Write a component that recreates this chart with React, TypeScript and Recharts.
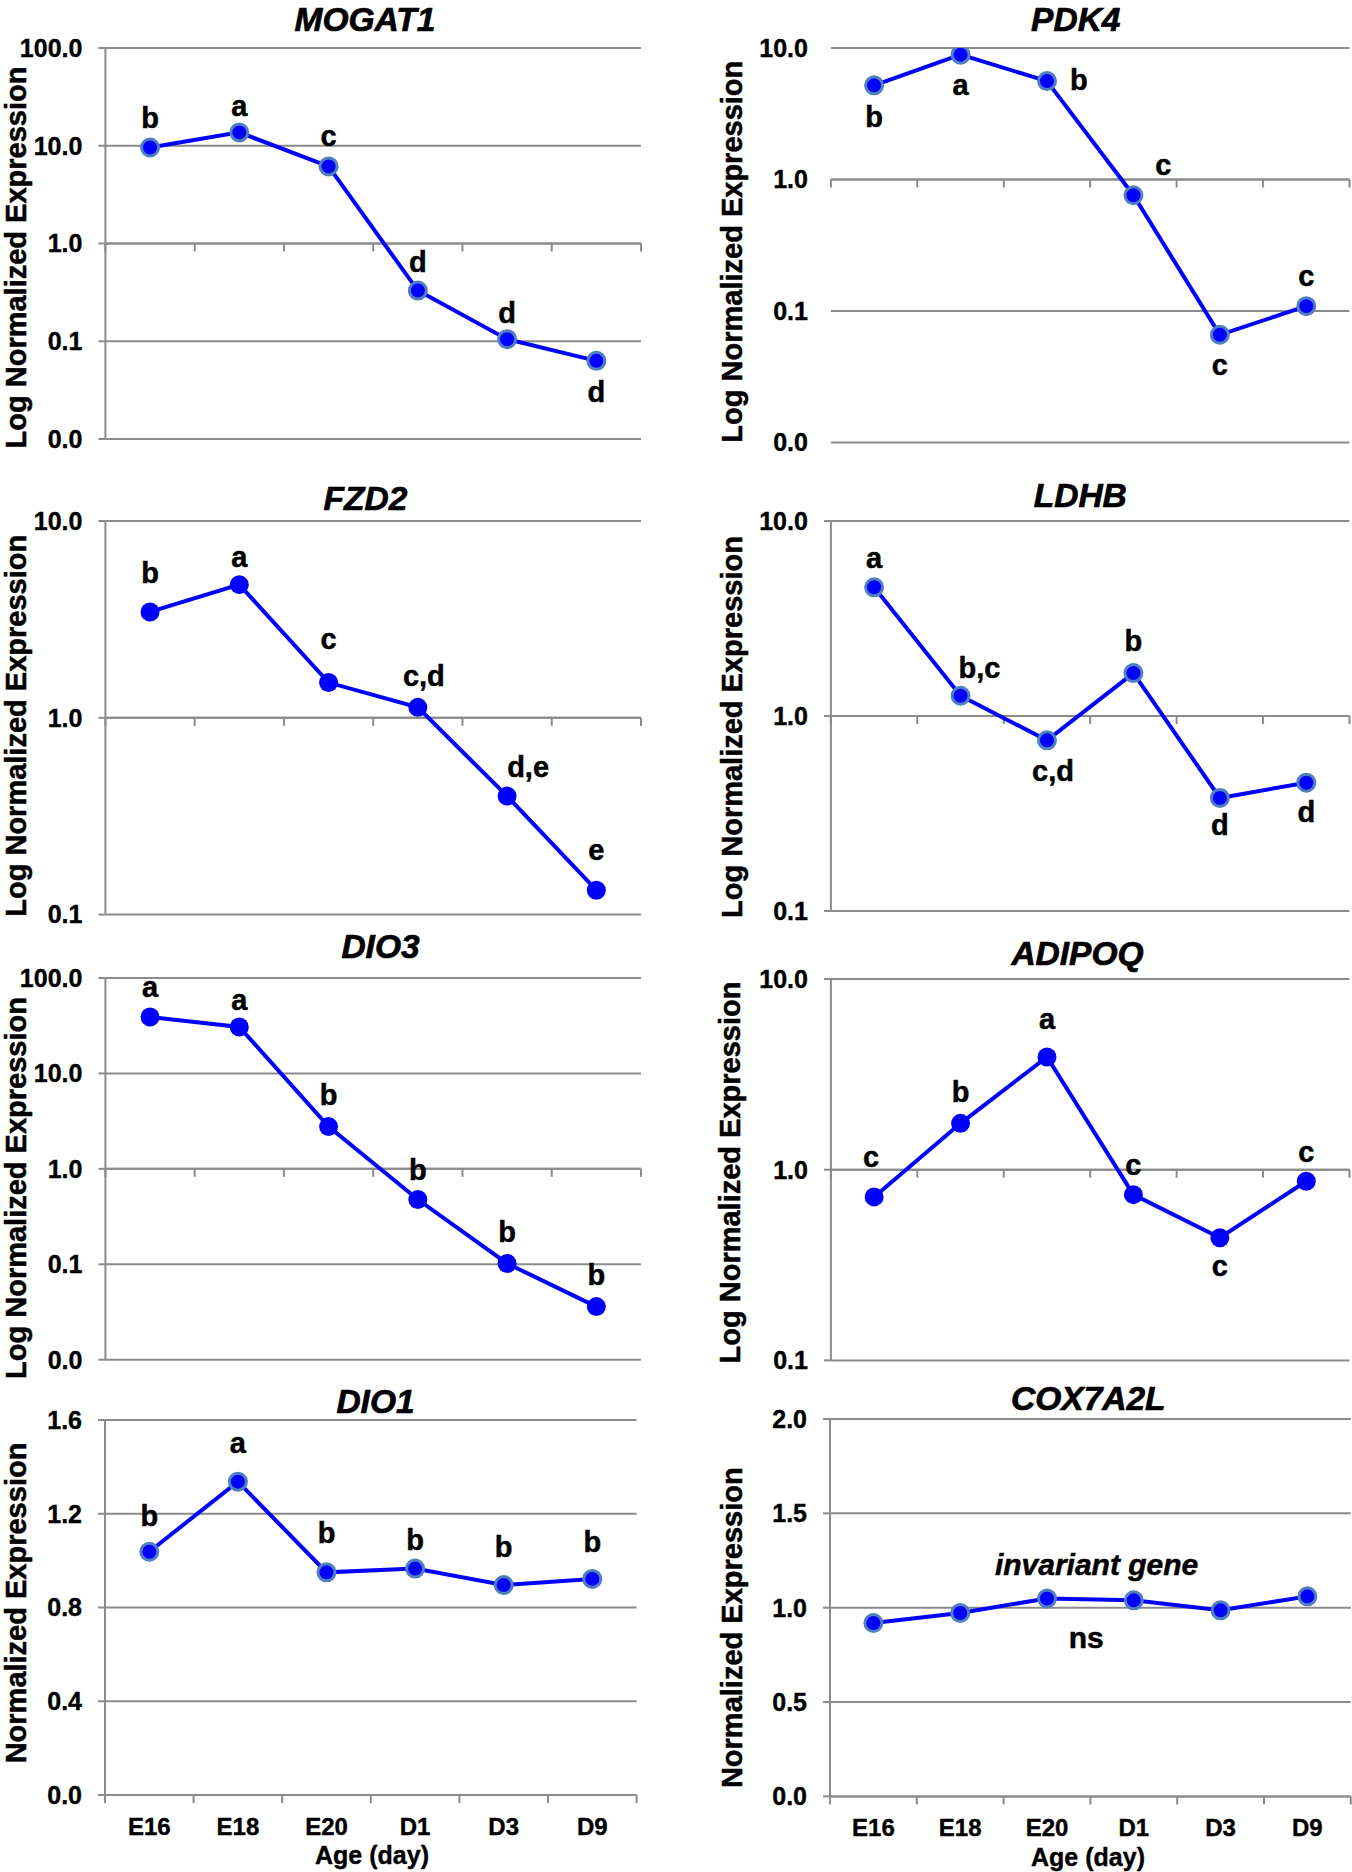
import { LineChart, Line, XAxis, YAxis, CartesianGrid, ReferenceLine, LabelList } from 'recharts';

const ages = ['E16', 'E18', 'E20', 'D1', 'D3', 'D9'];

const mogat1Values = [9.6, 13.7, 6.15, 0.33, 0.105, 0.063];
const mogat1Letters = ['b', 'a', 'c', 'd', 'd', 'd'];

const pdk4Values = [5.2, 8.9, 5.6, 0.76, 0.066, 0.109];
const pdk4Letters = ['b', 'a', 'b', 'c', 'c', 'c'];

const fzd2Values = [3.45, 4.75, 1.51, 1.13, 0.4, 0.133];
const fzd2Letters = ['b', 'a', 'c', 'c,d', 'd,e', 'e'];

const ldhbValues = [4.57, 1.27, 0.75, 1.66, 0.38, 0.455];
const ldhbLetters = ['a', 'b,c', 'c,d', 'b', 'd', 'd'];

const dio3Values = [39, 30.7, 2.77, 0.477, 0.102, 0.036];
const dio3Letters = ['a', 'a', 'b', 'b', 'b', 'b'];

const adipoqValues = [0.72, 1.75, 3.9, 0.74, 0.44, 0.87];
const adipoqLetters = ['c', 'b', 'a', 'c', 'c', 'c'];

const dio1Values = [1.038, 1.337, 0.95, 0.966, 0.896, 0.922];
const dio1Letters = ['b', 'a', 'b', 'b', 'b', 'b'];

const cox7a2lValues = [0.919, 0.972, 1.049, 1.039, 0.986, 1.06];
const cox7a2lLetters = ['', '', '', '', '', ''];

const ticksLog100 = [0.01, 0.1, 1, 10, 100];
const ticksLog10Wide = [0.01, 0.1, 1, 10];
const ticksLog10 = [0.1, 1, 10];
const ticksDio1 = [0, 0.4, 0.8, 1.2, 1.6];
const ticksCox = [0, 0.5, 1, 1.5, 2];

const FONT = '"Liberation Sans", Arial, Helvetica, sans-serif';
const GRID = '#8b8b8b';
const BLUE = '#0000ff';
const RING = '#4f81bd';

type PanelDef = {
  title: string;
  values: number[];
  letters: string[];
  ticks: number[];
  log: boolean;
  base: number;
  yLabel: string;
  plot: [number, number, number, number]; // left, top, right, bottom
  titleAt: [number, number];
  yLabelAt: [number, number];
  labelPos: [number, number][];
  ring: boolean;
  yLine: boolean;
  xLabels: boolean;
};

const LOG_LABEL = 'Log Normalized Expression';
const LIN_LABEL = 'Normalized Expression';

const panels: PanelDef[] = [
  {
    title: 'MOGAT1', values: mogat1Values, letters: mogat1Letters, ticks: ticksLog100, log: true, base: 1,
    yLabel: LOG_LABEL, plot: [105.4, 48, 641, 439], titleAt: [365, 30.5], yLabelAt: [18.5, 257.5],
    labelPos: [[0, -28], [0, -25], [0, -29], [0, -28], [0, -25], [0, 32]], ring: true, yLine: true, xLabels: false,
  },
  {
    title: 'PDK4', values: pdk4Values, letters: pdk4Letters, ticks: ticksLog10Wide, log: true, base: 1,
    yLabel: LOG_LABEL, plot: [830.9, 47.7, 1349.5, 442.3], titleAt: [1075.8, 31], yLabelAt: [734.6, 251.7],
    labelPos: [[0, 33], [0, 31], [32, 0], [30, -29], [0, 31], [0, -29]], ring: true, yLine: false, xLabels: false,
  },
  {
    title: 'FZD2', values: fzd2Values, letters: fzd2Letters, ticks: ticksLog10, log: true, base: 1,
    yLabel: LOG_LABEL, plot: [105.4, 520.7, 641, 914.3], titleAt: [365.4, 510], yLabelAt: [18.5, 725.8],
    labelPos: [[0, -38], [0, -27], [0, -43], [6, -30], [21, -28], [0, -39]], ring: false, yLine: true, xLabels: false,
  },
  {
    title: 'LDHB', values: ldhbValues, letters: ldhbLetters, ticks: ticksLog10, log: true, base: 1,
    yLabel: LOG_LABEL, plot: [830.9, 521, 1349.5, 911], titleAt: [1080.3, 506.7], yLabelAt: [734.6, 727],
    labelPos: [[0, -28], [19, -27], [6, 32], [0, -31], [0, 28], [0, 30]], ring: true, yLine: true, xLabels: false,
  },
  {
    title: 'DIO3', values: dio3Values, letters: dio3Letters, ticks: ticksLog100, log: true, base: 1,
    yLabel: LOG_LABEL, plot: [105.4, 978.3, 641, 1360], titleAt: [380.5, 958.3], yLabelAt: [19, 1188],
    labelPos: [[0, -29], [0, -26], [0, -31], [0, -29], [0, -30], [0, -31]], ring: false, yLine: true, xLabels: false,
  },
  {
    title: 'ADIPOQ', values: adipoqValues, letters: adipoqLetters, ticks: ticksLog10, log: true, base: 1,
    yLabel: LOG_LABEL, plot: [830.9, 979.3, 1349.5, 1360.7], titleAt: [1077.5, 965], yLabelAt: [732.5, 1172.5],
    labelPos: [[-3, -39], [0, -30], [0, -37], [0, -29], [0, 29], [0, -28]], ring: false, yLine: true, xLabels: false,
  },
  {
    title: 'DIO1', values: dio1Values, letters: dio1Letters, ticks: ticksDio1, log: false, base: 0,
    yLabel: LIN_LABEL, plot: [105, 1420, 636.6, 1795], titleAt: [375.5, 1412.7], yLabelAt: [19, 1603],
    labelPos: [[0, -35], [0, -38], [0, -38], [0, -28], [0, -37], [0, -36]], ring: true, yLine: true, xLabels: true,
  },
  {
    title: 'COX7A2L', values: cox7a2lValues, letters: cox7a2lLetters, ticks: ticksCox, log: false, base: 0,
    yLabel: LIN_LABEL, plot: [830, 1419.3, 1350.8, 1796.7], titleAt: [1088.3, 1410], yLabelAt: [734.6, 1627.7],
    labelPos: [[0, -30], [0, -30], [0, -30], [0, -30], [0, -30], [0, -30]], ring: true, yLine: true, xLabels: true,
  },
];

// category axis line with tick marks between categories (Excel style)
function CategoryAxis(props: any) {
  const { x1, x2, y1 } = props;
  const step = (x2 - x1) / ages.length;
  return (
    <g>
      <line x1={x1} x2={x2} y1={y1} y2={y1} stroke={GRID} strokeWidth={2} />
      {Array.from({ length: ages.length + 1 }, (_, i) => (
        <line key={i} x1={x1 + i * step} x2={x1 + i * step} y1={y1} y2={y1 + 8} stroke={GRID} strokeWidth={2} />
      ))}
    </g>
  );
}

function letterContent(pos: [number, number][]) {
  return (props: any) => {
    const value = props.value;
    if (!value) return null;
    const idx = props.index ?? props.payload?.i ?? 0;
    const x = props.x ?? props.viewBox?.x;
    const y = props.y ?? props.viewBox?.y;
    const [dx, dy] = pos[idx] ?? [0, -30];
    return (
      <text x={x + dx} y={y + dy + 9} textAnchor="middle" fontSize={29} fontWeight={700} fontFamily={FONT}
        fill="#000" stroke="#000" strokeWidth={0.5}>
        {value}
      </text>
    );
  };
}

function Panel({ p }: { p: PanelDef }) {
  const [l, t, r, b] = p.plot;
  const col = l < 600 ? 0 : 690;
  const top = t - 32;
  const width = r + 2 - col;
  const height = b - t + 32 + (p.xLabels ? 60 : 20);
  const data = ages.map((age, i) => ({ i, pos: i + 0.5, age, value: p.values[i], sig: p.letters[i] }));
  const axisStroke = { stroke: GRID, strokeWidth: 2 };
  const tickFont = { fill: '#000', stroke: '#000', strokeWidth: 0.4, fontWeight: 700, fontFamily: FONT };
  return (
    <div style={{ position: 'absolute', left: col, top, width, height }}>
      <LineChart width={width} height={height} data={data} margin={{ top: 32, right: 2, bottom: p.xLabels ? 0 : 20, left: 0 }}>
        <CartesianGrid horizontal vertical={false} stroke={GRID} strokeWidth={2} />
        <XAxis
          type="number"
          dataKey="pos"
          domain={[0, 6]}
          ticks={ages.map((_, i) => i + 0.5)}
          tickFormatter={(v: number) => ages[Math.floor(v)]}
          hide={!p.xLabels}
          height={60}
          axisLine={false}
          tickLine={false}
          tickSize={6}
          tickMargin={17}
          interval={0}
          tick={{ ...tickFont, fontSize: 24 }}
        />
        <YAxis
          type="number"
          scale={p.log ? 'log' : 'linear'}
          domain={[p.ticks[0], p.ticks[p.ticks.length - 1]]}
          ticks={p.ticks}
          allowDataOverflow
          interval={0}
          width={l - col}
          tickFormatter={(v: number) => v.toFixed(1)}
          axisLine={p.yLine ? axisStroke : false}
          tickLine={p.yLine ? axisStroke : false}
          tickSize={7}
          tickMargin={16}
          tick={{ ...tickFont, fontSize: 25 }}
        />
        <ReferenceLine y={p.base} shape={CategoryAxis} />
        <Line
          type="linear"
          dataKey="value"
          stroke={BLUE}
          strokeWidth={4}
          dot={{ r: p.ring ? 8.5 : 9.5, fill: BLUE, stroke: p.ring ? RING : BLUE, strokeWidth: p.ring ? 3 : 0 }}
          activeDot={false}
          isAnimationActive={false}
        >
          <LabelList dataKey="sig" content={letterContent(p.labelPos)} />
        </Line>
      </LineChart>
    </div>
  );
}

const textStyle = { fill: '#000', stroke: '#000', fontFamily: FONT, fontWeight: 700 };

export default function App() {
  return (
    <div style={{ position: 'absolute', left: 0, top: 0, width: 1352, height: 1872, overflow: 'hidden', background: '#fff' }}>
      {panels.map((p) => (
        <Panel key={p.title} p={p} />
      ))}
      <svg width={1352} height={1872} style={{ position: 'absolute', left: 0, top: 0, pointerEvents: 'none' }}>
        {panels.map((p) => (
          <text
            key={'t' + p.title}
            x={p.titleAt[0]}
            y={p.titleAt[1]}
            textAnchor="middle"
            fontSize={33.5}
            fontStyle="italic"
            strokeWidth={0.7}
            {...textStyle}
          >
            {p.title}
          </text>
        ))}
        {panels.map((p) => {
          const x = p.yLabelAt[0] + 7.3;
          const y = p.yLabelAt[1];
          return (
            <text
              key={'y' + p.title}
              x={x}
              y={y}
              transform={`rotate(-90 ${x} ${y})`}
              textAnchor="middle"
              fontSize={29}
              strokeWidth={0.5}
              {...textStyle}
            >
              {p.yLabel}
            </text>
          );
        })}
        <text x={372} y={1864} textAnchor="middle" fontSize={25} strokeWidth={0.4} {...textStyle}>
          Age (day)
        </text>
        <text x={1088} y={1866} textAnchor="middle" fontSize={25} strokeWidth={0.4} {...textStyle}>
          Age (day)
        </text>
        <text x={1096.6} y={1575} textAnchor="middle" fontSize={30} fontStyle="italic" strokeWidth={0.5} {...textStyle}>
          invariant gene
        </text>
        <text x={1086.3} y={1648} textAnchor="middle" fontSize={30} strokeWidth={0.5} {...textStyle}>
          ns
        </text>
      </svg>
    </div>
  );
}
